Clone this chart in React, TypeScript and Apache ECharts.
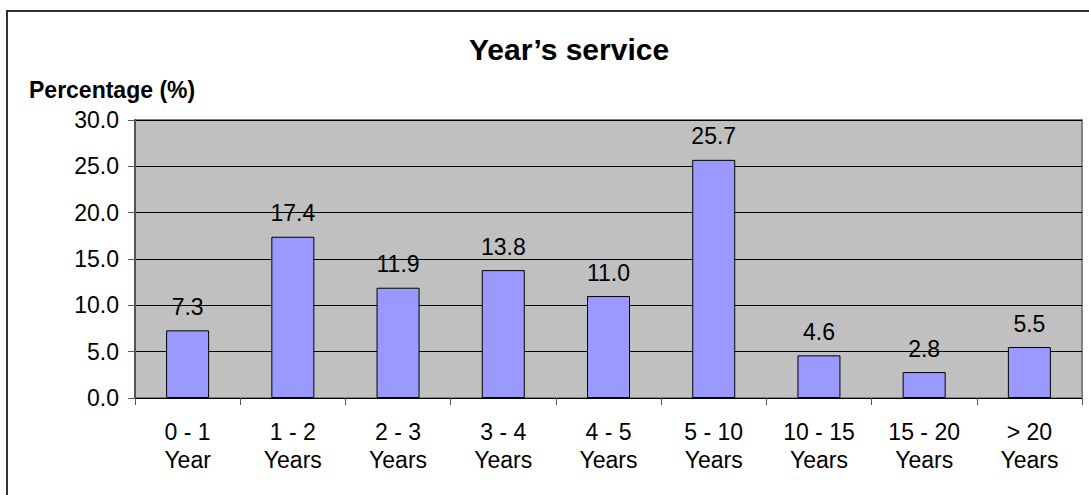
import React, { useEffect, useRef } from "react";
import * as echarts from "echarts";

const categories = ["0 - 1\nYear", "1 - 2\nYears", "2 - 3\nYears", "3 - 4\nYears", "4 - 5\nYears", "5 - 10\nYears", "10 - 15\nYears", "15 - 20\nYears", "> 20\nYears"];
const values = [7.3, 17.4, 11.9, 13.8, 11.0, 25.7, 4.6, 2.8, 5.5];
const titleText = "Year\u2019s service";
const yAxisName = "Percentage (%)";

const FONT = "'Liberation Sans', Arial, sans-serif";

export default function App() {
  const ref = useRef<HTMLDivElement>(null);
  useEffect(() => {
    document.body.style.margin = "0";
    const chart = echarts.init(ref.current!, null, { renderer: "svg" });
    chart.setOption({
      animation: false,
      backgroundColor: "#ffffff",
      textStyle: { fontFamily: FONT },
      graphic: [
        {
          type: "rect",
          shape: { x: 7, y: 11, width: 1200, height: 600 },
          style: { fill: "none", stroke: "#333333", lineWidth: 2 },
          silent: true,
          z: 0,
        },
        {
          type: "text",
          x: 569,
          y: 49,
          style: {
            text: titleText,
            font: `bold 30px ${FONT}`,
            fill: "#000",
            textAlign: "center",
            textVerticalAlign: "middle",
          },
        },
        {
          type: "text",
          x: 29,
          y: 90,
          style: {
            text: yAxisName,
            font: `bold 23px ${FONT}`,
            fill: "#000",
            textAlign: "left",
            textVerticalAlign: "middle",
          },
        },
      ],
      grid: {
        left: 135,
        top: 120,
        right: 7,
        bottom: 97,
        show: true,
        backgroundColor: "#C0C0C0",
        borderColor: "#808080",
        borderWidth: 2,
      },
      xAxis: {
        type: "category",
        data: categories,
        axisLine: { show: true, lineStyle: { color: "#000", width: 1 } },
        axisTick: { show: true, length: 7, lineStyle: { color: "#555" } },
        axisLabel: {
          color: "#000",
          fontSize: 23,
          lineHeight: 28,
          margin: 20,
          fontFamily: FONT,
          interval: 0,
        },
      },
      yAxis: {
        type: "value",
        min: 0,
        max: 30,
        interval: 5,
        axisLine: { show: true, lineStyle: { color: "#555", width: 2 } },
        axisTick: { show: true, length: 7, lineStyle: { color: "#555" } },
        axisLabel: {
          color: "#000",
          fontSize: 23,
          margin: 16,
          fontFamily: FONT,
          formatter: (v: number) => v.toFixed(1),
        },
        splitLine: { show: true, lineStyle: { color: "#000", width: 1 } },
      },
      series: [
        {
          type: "bar",
          data: values,
          barWidth: 43,
          itemStyle: { color: "#9999FF", borderColor: "#000", borderWidth: 1 },
          label: {
            show: true,
            position: "top",
            distance: 12,
            color: "#000",
            fontSize: 23,
            fontFamily: FONT,
            formatter: (p: any) => Number(p.value).toFixed(1),
          },
        },
      ],
    });
    return () => chart.dispose();
  }, []);
  return <div ref={ref} style={{ position: "absolute", left: 0, top: 0, width: 1089, height: 495 }} />;
}
